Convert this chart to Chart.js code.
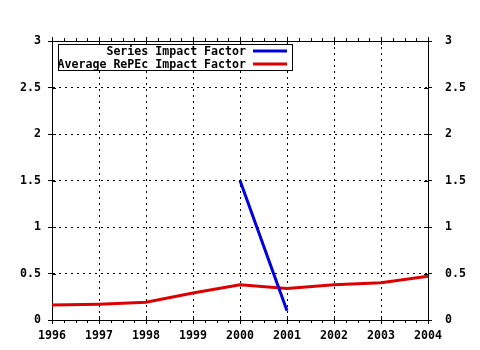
<!DOCTYPE html>
<html>
<head>
<meta charset="utf-8">
<script src="https://cdn.jsdelivr.net/npm/chart.js@4"></script>
<style>
  html, body { margin: 0; padding: 0; background: #fff; }
</style>
</head>
<body>
<canvas id="impact" width="480" height="350"></canvas>
<script>
const years = [1996, 1997, 1998, 1999, 2000, 2001, 2002, 2003, 2004];
const averageImpact = [0.16, 0.17, 0.19, 0.29, 0.38, 0.34, 0.38, 0.40, 0.47];
const seriesYears = [2000, 2001];
const seriesImpact = [1.5, 0.1];
const yMin = 0, yMax = 3, yStep = 0.5;
const seriesLabels = ["Series Impact Factor", "Average RePEc Impact Factor"];
const seriesColors = ["#0000dd", "#dd0000"];

const FONT = "'DejaVu Sans Mono', monospace";
const FONT_SIZE = 11.6;
Chart.defaults.font = { family: FONT, size: FONT_SIZE, weight: 'bold' };
Chart.defaults.color = '#000';

// small tick marks: inner halves of the major ticks and quarter-year minor ticks
const tickMarks = {
  id: 'tickMarks',
  beforeDatasetsDraw(chart) {
    const { ctx, chartArea: a, scales } = chart;
    ctx.save();
    ctx.strokeStyle = '#000';
    ctx.lineWidth = 1;
    ctx.beginPath();
    for (let v = years[0]; v <= years[years.length - 1] + 1e-9; v += 0.25) {
      const x = Math.round(scales.x.getPixelForValue(v)) + 0.5;
      if (Number.isInteger(v)) {
        ctx.moveTo(x, a.bottom - 4); ctx.lineTo(x, a.bottom);
        ctx.moveTo(x, a.top); ctx.lineTo(x, a.top + 4);
      } else {
        ctx.moveTo(x, a.bottom); ctx.lineTo(x, a.bottom + 3);
        ctx.moveTo(x, a.top - 3); ctx.lineTo(x, a.top);
      }
    }
    for (let v = yMin; v <= yMax; v += yStep) {
      const y = Math.round(scales.y.getPixelForValue(v)) + 0.5;
      ctx.moveTo(a.left, y); ctx.lineTo(a.left + 4, y);
      ctx.moveTo(a.right - 4, y); ctx.lineTo(a.right, y);
    }
    ctx.stroke();
    ctx.restore();
  }
};

// boxed legend, text right-aligned with a line sample after it
const boxLegend = {
  id: 'boxLegend',
  afterDraw(chart) {
    const { ctx, chartArea: a } = chart;
    const left = a.left + 6, top = a.top + 3, w = 234, h = 26;
    ctx.save();
    ctx.fillStyle = '#fff';
    ctx.fillRect(left, top, w, h);
    ctx.strokeStyle = '#000';
    ctx.lineWidth = 1;
    ctx.strokeRect(left + 0.5, top + 0.5, w, h);
    ctx.beginPath();
    ctx.rect(left + 1, top + 1, w, h);
    ctx.clip();
    ctx.font = "bold " + FONT_SIZE + "px " + FONT;
    ctx.textAlign = 'right';
    ctx.textBaseline = 'middle';
    chart.data.datasets.forEach((ds, i) => {
      const y = top + 7 + i * 13;
      ctx.fillStyle = '#000';
      ctx.fillText(ds.label, left + 188, y + 1);
      ctx.strokeStyle = ds.borderColor;
      ctx.lineWidth = 3;
      ctx.beginPath();
      ctx.moveTo(left + 195, y);
      ctx.lineTo(left + 229, y);
      ctx.stroke();
    });
    ctx.restore();
  }
};

const gridCommon = { color: '#000', lineWidth: 1, tickLength: 4, tickColor: '#000' };
const borderCommon = { color: '#000', width: 1, dash: [2, 4] };

new Chart(document.getElementById('impact'), {
  type: 'line',
  data: {
    datasets: [{
      label: seriesLabels[0],
      data: seriesYears.map((x, i) => ({ x, y: seriesImpact[i] })),
      borderColor: seriesColors[0],
      borderWidth: 3,
      pointRadius: 0,
      tension: 0,
      fill: false
    }, {
      label: seriesLabels[1],
      data: years.map((x, i) => ({ x, y: averageImpact[i] })),
      borderColor: seriesColors[1],
      borderWidth: 3,
      pointRadius: 0,
      tension: 0,
      fill: false
    }]
  },
  options: {
    responsive: false,
    animation: false,
    layout: { padding: 0 },
    plugins: { legend: { display: false }, tooltip: { enabled: false } },
    scales: {
      x: {
        type: 'linear', position: 'bottom',
        min: years[0], max: years[years.length - 1],
        ticks: { stepSize: 1, padding: 5, maxRotation: 0, autoSkip: false, callback: v => String(v) },
        grid: gridCommon,
        border: borderCommon,
        afterFit(s) { s.height = 30; }
      },
      x2: {
        type: 'linear', position: 'top',
        min: years[0], max: years[years.length - 1],
        ticks: { stepSize: 1, display: false },
        grid: { ...gridCommon, drawOnChartArea: false },
        border: { color: '#000', width: 1 },
        afterFit(s) { s.height = 41; }
      },
      y: {
        type: 'linear', position: 'left',
        min: yMin, max: yMax,
        ticks: { stepSize: yStep, padding: 7, callback: v => String(v) },
        grid: gridCommon,
        border: borderCommon,
        afterFit(s) { s.width = 52; }
      },
      y2: {
        type: 'linear', position: 'right',
        min: yMin, max: yMax,
        ticks: { stepSize: yStep, padding: 13, callback: v => String(v) },
        grid: { ...gridCommon, drawOnChartArea: false },
        border: { color: '#000', width: 1 },
        afterFit(s) { s.width = 52; }
      }
    }
  },
  plugins: [tickMarks, boxLegend]
});
</script>
</body>
</html>
